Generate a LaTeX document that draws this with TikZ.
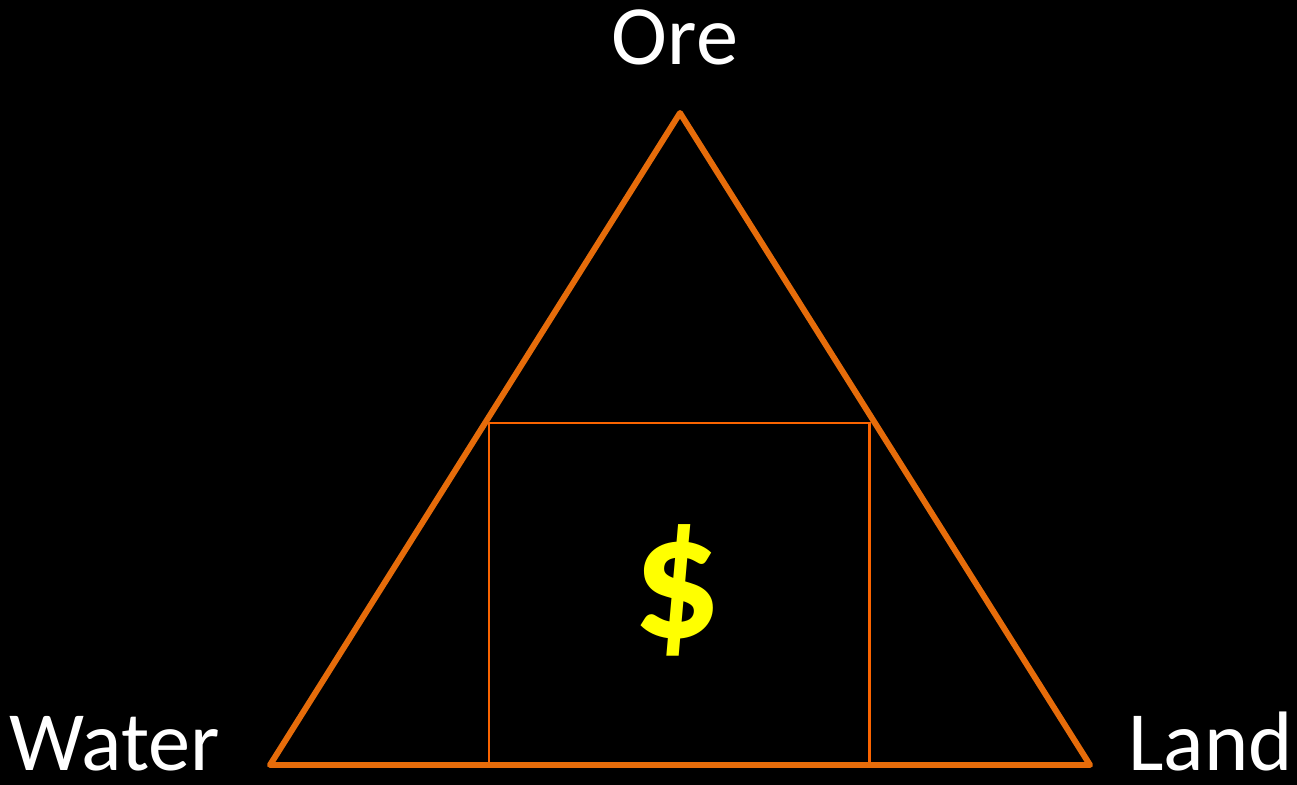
\documentclass[tikz,border=0pt]{standalone}
\usepackage{fontspec}
\setmainfont{Carlito}
\usepackage{xcolor}
\usetikzlibrary{positioning}
\definecolor{cadreorange}{RGB}{230,108,10}
\definecolor{carreorange}{RGB}{250,100,0}
\definecolor{dollarjaune}{RGB}{255,255,0}

\begin{document}
\begin{tikzpicture}[every node/.style={text=white,inner sep=0pt}]
    \fill[black] (0,0) rectangle (25.94,15.7);
    \useasboundingbox (0,0) rectangle (25.94,15.7);

    \coordinate (top) at (13.6,13.44);
    \coordinate (bl) at (5.4,0.4);
    \coordinate (br) at (21.8,0.4);
    \coordinate (sq1) at (9.78,0.4);
    \coordinate (sq2) at (17.38,7.24);

    \draw[carreorange,line width=1.7pt] (sq1) rectangle (sq2);
    \draw[cadreorange,line width=3.4pt,line join=round,line cap=round] (top) -- (bl) -- (br) -- cycle;

    \node[font=\fontsize{48}{52}\selectfont,anchor=base] (ore) at (13.5,14.4) {Ore};
    \node[font=\fontsize{48}{52}\selectfont,anchor=base west,text depth=0pt] (water) at (0.18,0.28) {Water};
    \node[font=\fontsize{48}{52}\selectfont,anchor=base west,text depth=0pt] (land) at (22.56,0.28) {Land};
    \node[font=\fontsize{100}{110}\selectfont\bfseries,text=dollarjaune] (dollar) at (13.55,3.9) {\$};
\end{tikzpicture}
\end{document}
